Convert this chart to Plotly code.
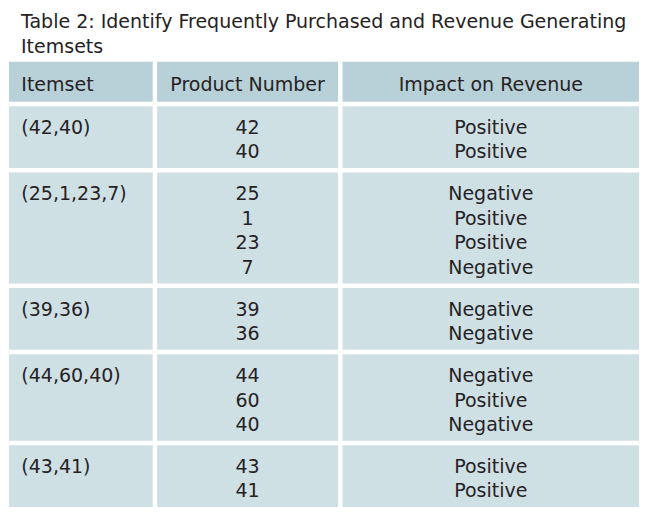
import plotly.graph_objects as go

# The page body adds an 8px margin, so the figure is sized to fit the window
# and the axes are laid out in page pixels (x: 8..647, y: 8..518 downward).
W, H = 639, 510
OFF = 8

headers = ["Itemset", "Product Number", "Impact on Revenue"]
itemsets = ["(42,40)", "(25,1,23,7)", "(39,36)", "(44,60,40)", "(43,41)"]
product_numbers = [[42, 40], [25, 1, 23, 7], [39, 36], [44, 60, 40], [43, 41]]
impacts = [
    ["Positive", "Positive"],
    ["Negative", "Positive", "Positive", "Negative"],
    ["Negative", "Negative"],
    ["Negative", "Positive", "Negative"],
    ["Positive", "Positive"],
]
title = "Table 2: Identify Frequently Purchased and Revenue Generating<br>Itemsets"

# ---- style / layout constants ----
FONT = "DejaVu Sans"
FS = 19
TXT = "#262223"
HEAD_BG = "#b8d0d8"
BODY_BG = "#cfe0e5"

COL_LEFT = 9
COL_W = [143.7, 181, 296.7]
GAP = 4.4          # white gap between columns
VGAP = 4.5         # white gap between rows
HEAD_TOP = 61.7
HEAD_H = 40
HEAD_BASE = 29.3   # header baseline below header top
LINE = 24.6        # line spacing inside a row
FIRST_BASE = 27.6  # first baseline below row top
ROW_PAD = 12.6     # row height = LINE * lines + ROW_PAD
TEXT_INSET = 12.3  # left inset of left-aligned text
MID = 0.25 * FS    # plotly 'middle' text: baseline = y + 0.25 * size

col_x0 = []
x = COL_LEFT
for w in COL_W:
    col_x0.append(x)
    x += w + GAP
col_x1 = [x0 + w for x0, w in zip(col_x0, COL_W)]
col_mid = [(a + b) / 2 for a, b in zip(col_x0, col_x1)]

# row extents derived from the number of products in each itemset
n_lines = [len(g) for g in product_numbers]
row_top, row_bot = [], []
y = HEAD_TOP + HEAD_H + VGAP
for n in n_lines:
    row_top.append(y)
    row_bot.append(y + LINE * n + ROW_PAD)
    y = row_bot[-1] + VGAP

fig = go.Figure()

# cell backgrounds
for c in range(3):
    fig.add_shape(type="rect", xref="x", yref="y", layer="below",
                  x0=col_x0[c], x1=col_x1[c], y0=HEAD_TOP, y1=HEAD_TOP + HEAD_H,
                  fillcolor=HEAD_BG, line=dict(width=0))
    for r in range(len(itemsets)):
        fig.add_shape(type="rect", xref="x", yref="y", layer="below",
                      x0=col_x0[c], x1=col_x1[c], y0=row_top[r], y1=row_bot[r],
                      fillcolor=BODY_BG, line=dict(width=0))

font = dict(family=FONT, size=FS, color=TXT)

# header text
fig.add_trace(go.Scatter(
    x=[col_x0[0] + TEXT_INSET, col_mid[1], col_mid[2]],
    y=[HEAD_TOP + HEAD_BASE - MID] * 3,
    text=headers, mode="text",
    textposition=["middle right", "middle center", "middle center"],
    textfont=font, hoverinfo="skip", cliponaxis=False, showlegend=False,
))

# itemset column
fig.add_trace(go.Scatter(
    x=[col_x0[0] + TEXT_INSET] * len(itemsets),
    y=[t + FIRST_BASE - MID for t in row_top],
    text=itemsets, mode="text", textposition="middle right",
    textfont=font, hoverinfo="skip", cliponaxis=False, showlegend=False,
))

# product numbers and impacts, one line each
px, py, ptxt, ix, itxt = [], [], [], [], []
for r, (prods, imps) in enumerate(zip(product_numbers, impacts)):
    for k, (p, im) in enumerate(zip(prods, imps)):
        yy = row_top[r] + FIRST_BASE + k * LINE - MID
        px.append(col_mid[1]); py.append(yy); ptxt.append(str(p))
        ix.append(col_mid[2]); itxt.append(im)

fig.add_trace(go.Scatter(
    x=px, y=py, text=ptxt, mode="text", textposition="middle center",
    textfont=font, hoverinfo="skip", cliponaxis=False, showlegend=False,
))
fig.add_trace(go.Scatter(
    x=ix, y=py, text=itxt, mode="text", textposition="middle center",
    textfont=font, hoverinfo="skip", cliponaxis=False, showlegend=False,
))

# title (paper coordinates, top-left of the figure)
fig.add_annotation(
    text=title, xref="paper", yref="paper", x=(18 - OFF) / W, y=1,
    xanchor="left", yanchor="top", align="left", showarrow=False,
    font=font,
)

fig.update_xaxes(range=[OFF, OFF + W], visible=False, fixedrange=True)
fig.update_yaxes(range=[OFF + H, OFF], visible=False, fixedrange=True)
fig.update_layout(
    width=W, height=H, margin=dict(l=0, r=0, t=0, b=0),
    paper_bgcolor="white", plot_bgcolor="white",
)

fig.write_html("out.html")
